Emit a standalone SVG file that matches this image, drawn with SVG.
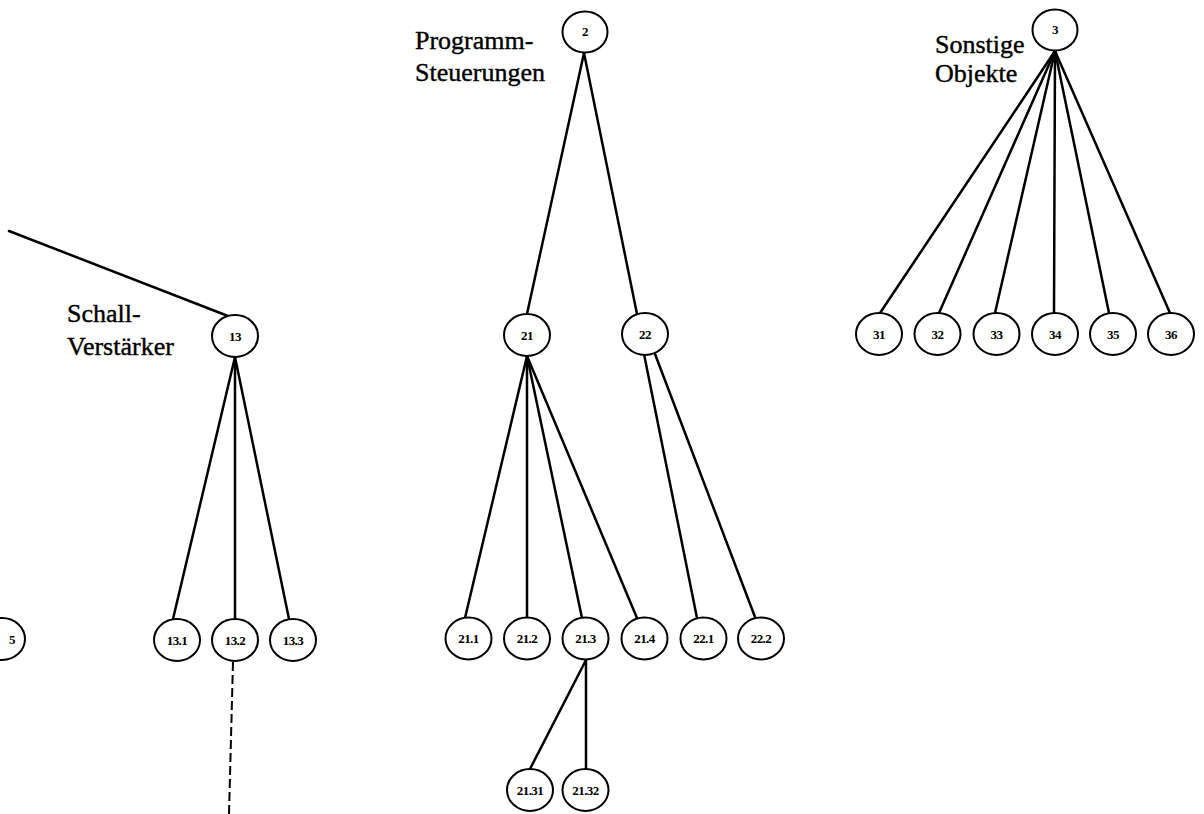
<svg xmlns="http://www.w3.org/2000/svg" width="1204" height="814" viewBox="0 0 1204 814">
<style>
.n ellipse{fill:#fff;stroke:#000;stroke-width:2}
.n text{font-family:"Liberation Serif","Times New Roman",serif;font-weight:bold;font-size:13px;text-anchor:middle;letter-spacing:-0.6px}
.e line{stroke:#000;stroke-width:2.5;stroke-linecap:round}
.e .d{stroke-dasharray:9 4;stroke-width:2;stroke-linecap:butt}
.lbl{font-family:"Liberation Serif","Times New Roman",serif;font-size:26px;fill:#000;stroke:#000;stroke-width:0.4}
</style>
<rect width="1204" height="814" fill="#fff"/>
<g id="connectors" class="e">
<line x1="9" y1="231" x2="228" y2="316"/>
<line x1="235" y1="357" x2="173" y2="619"/>
<line x1="235" y1="357" x2="235" y2="619"/>
<line x1="235" y1="357" x2="289" y2="619"/>
<line class="d" x1="233" y1="662" x2="229" y2="814"/>
<line x1="584" y1="53" x2="527" y2="314"/>
<line x1="584" y1="53" x2="637" y2="314"/>
<line x1="527" y1="356" x2="465" y2="618"/>
<line x1="527" y1="356" x2="527" y2="618"/>
<line x1="527" y1="356" x2="582" y2="618"/>
<line x1="527" y1="356" x2="637" y2="618"/>
<line x1="644" y1="354" x2="697" y2="618"/>
<line x1="655" y1="354" x2="755" y2="617"/>
<line x1="586" y1="660" x2="530" y2="769"/>
<line x1="586" y1="660" x2="586" y2="769"/>
<line x1="1055" y1="51" x2="880" y2="313"/>
<line x1="1055" y1="51" x2="939" y2="313"/>
<line x1="1055" y1="51" x2="995" y2="313"/>
<line x1="1055" y1="51" x2="1054" y2="313"/>
<line x1="1055" y1="51" x2="1109" y2="313"/>
<line x1="1055" y1="51" x2="1170" y2="313"/>
</g>
<text class="lbl" x="415" y="49">Programm-</text>
<text class="lbl" x="415" y="81">Steuerungen</text>
<text class="lbl" x="935" y="53">Sonstige</text>
<text class="lbl" x="935" y="82">Objekte</text>
<text class="lbl" x="67" y="322">Schall-</text>
<text class="lbl" x="67" y="355">Verstärker</text>
<g id="n2" class="n"><ellipse cx="585" cy="32" rx="22.5" ry="20.5"/><text x="585" y="36">2</text></g>
<g id="n3" class="n"><ellipse cx="1055" cy="30" rx="22.5" ry="20.5"/><text x="1055" y="34">3</text></g>
<g id="n13" class="n"><ellipse cx="235" cy="336" rx="23" ry="21"/><text x="235" y="340.5">13</text></g>
<g id="n21" class="n"><ellipse cx="527" cy="335" rx="23" ry="21"/><text x="527" y="339.5">21</text></g>
<g id="n22" class="n"><ellipse cx="645" cy="334" rx="23" ry="21"/><text x="645" y="338.5">22</text></g>
<g id="n31" class="n"><ellipse cx="879" cy="334" rx="23" ry="21"/><text x="879" y="338.5">31</text></g>
<g id="n32" class="n"><ellipse cx="937.5" cy="334" rx="23" ry="21"/><text x="937.5" y="338.5">32</text></g>
<g id="n33" class="n"><ellipse cx="996.5" cy="334" rx="23" ry="21"/><text x="996.5" y="338.5">33</text></g>
<g id="n34" class="n"><ellipse cx="1055" cy="334" rx="23" ry="21"/><text x="1055" y="338.5">34</text></g>
<g id="n35" class="n"><ellipse cx="1113" cy="334" rx="23" ry="21"/><text x="1113" y="338.5">35</text></g>
<g id="n36" class="n"><ellipse cx="1171" cy="334" rx="23" ry="21"/><text x="1171" y="338.5">36</text></g>
<g id="nx5" class="n"><ellipse cx="2" cy="639" rx="23" ry="21"/><text x="12" y="643.5">5</text></g>
<g id="n13_1" class="n"><ellipse cx="177" cy="640" rx="23" ry="21"/><text x="177" y="644.5">13.1</text></g>
<g id="n13_2" class="n"><ellipse cx="235" cy="640" rx="23" ry="21"/><text x="235" y="644.5">13.2</text></g>
<g id="n13_3" class="n"><ellipse cx="293" cy="640" rx="23" ry="21"/><text x="293" y="644.5">13.3</text></g>
<g id="n21_1" class="n"><ellipse cx="468.5" cy="638.5" rx="23" ry="21"/><text x="468.5" y="643">21.1</text></g>
<g id="n21_2" class="n"><ellipse cx="527" cy="638.5" rx="23" ry="21"/><text x="527" y="643">21.2</text></g>
<g id="n21_3" class="n"><ellipse cx="585.5" cy="638.5" rx="23" ry="21"/><text x="585.5" y="643">21.3</text></g>
<g id="n21_4" class="n"><ellipse cx="644.5" cy="638.5" rx="23" ry="21"/><text x="644.5" y="643">21.4</text></g>
<g id="n22_1" class="n"><ellipse cx="703.5" cy="638.5" rx="23" ry="21"/><text x="703.5" y="643">22.1</text></g>
<g id="n22_2" class="n"><ellipse cx="761" cy="638.5" rx="23" ry="21"/><text x="761" y="643">22.2</text></g>
<g id="n21_31" class="n"><ellipse cx="530" cy="790" rx="23" ry="21"/><text x="530" y="794.5">21.31</text></g>
<g id="n21_32" class="n"><ellipse cx="585.5" cy="790" rx="23" ry="21"/><text x="585.5" y="794.5">21.32</text></g>
</svg>
